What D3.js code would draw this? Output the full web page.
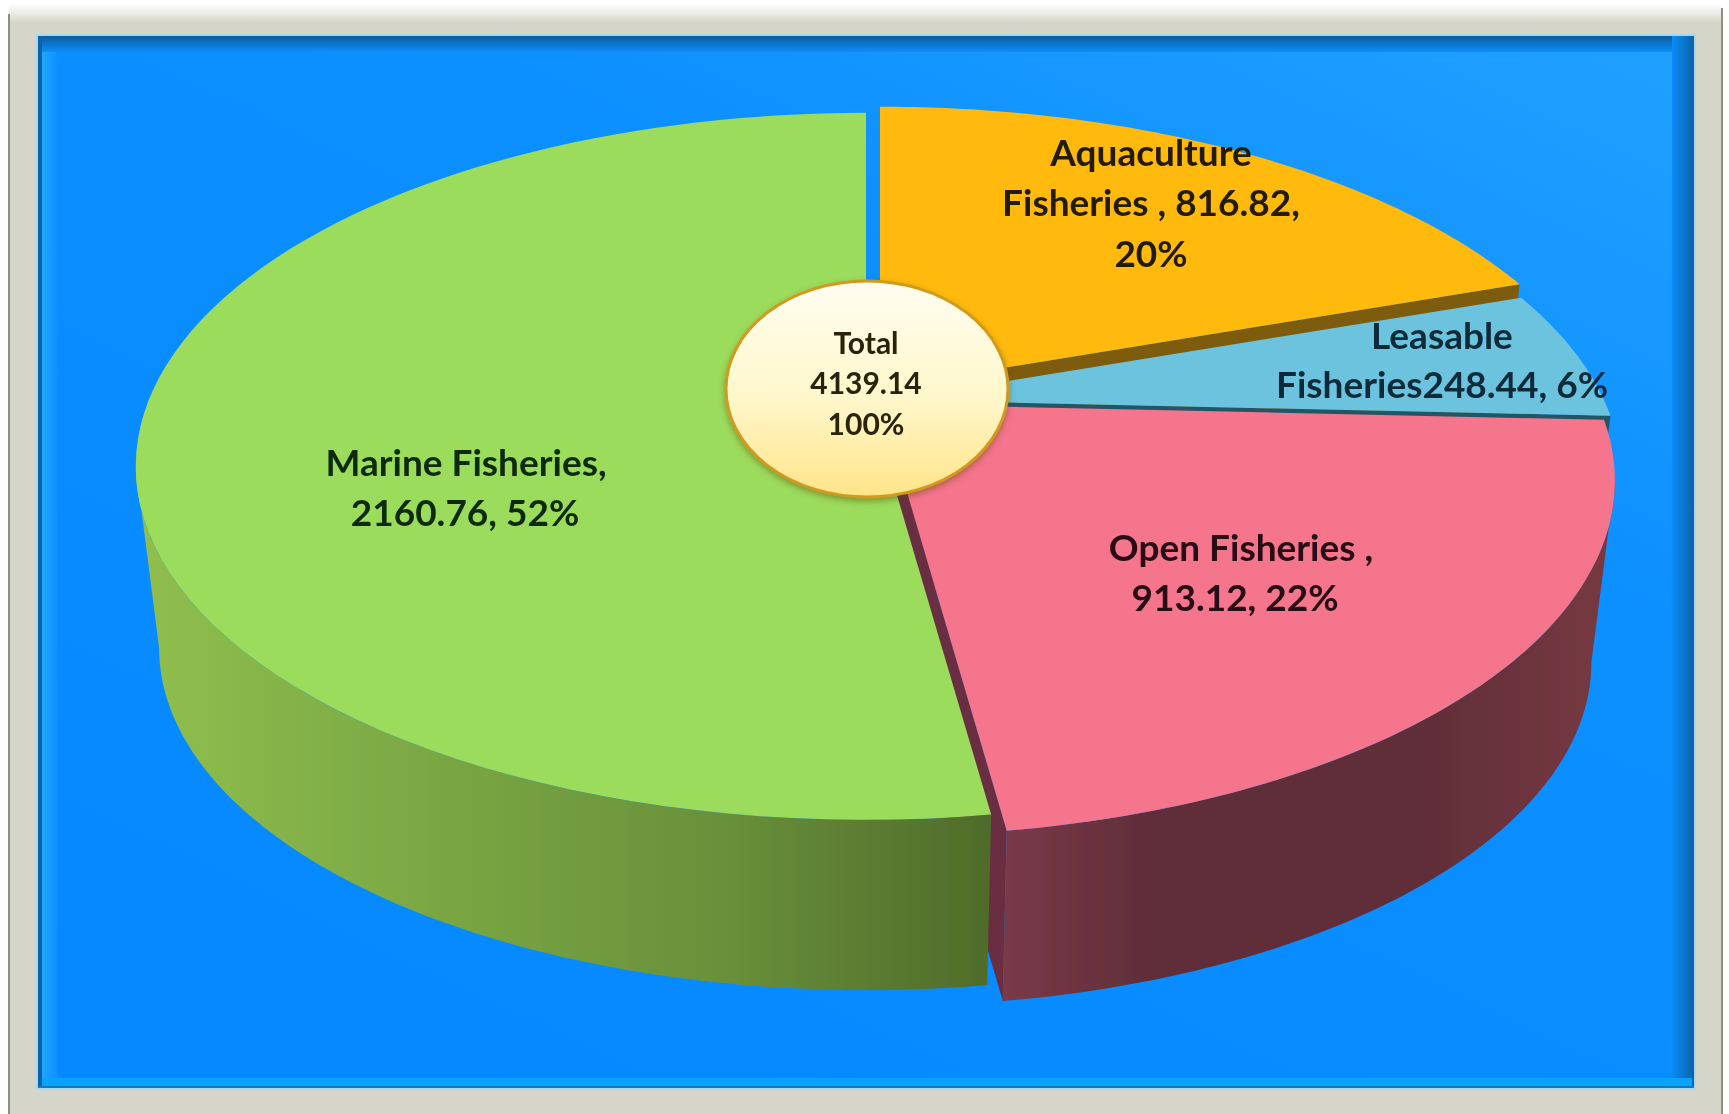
<!DOCTYPE html>
<html>
<head>
<meta charset="utf-8">
<script src="https://cdn.jsdelivr.net/npm/d3@7"></script>
<style>
  html, body { margin: 0; padding: 0; background: #fff; overflow: hidden; }
  text { font-family: Lato, "Open Sans", sans-serif; font-weight: 700; text-anchor: middle; }
</style>
</head>
<body>
<script>
// chart data
const categories = ["Aquaculture Fisheries", "Leasable Fisheries", "Open Fisheries", "Marine Fisheries"];
const values = [816.82, 248.44, 913.12, 2160.76];
const labelLines = [
  ["Aquaculture", "Fisheries , 816.82,", "20%"],
  ["Leasable", "Fisheries248.44, 6%"],
  ["Open Fisheries ,", "913.12, 22%"],
  ["Marine Fisheries,", "2160.76, 52%"],
];
const totalLines = ["Total", "4139.14", "100%"];

// layout and styles, keyed by category
const WIDTH = 1729, HEIGHT = 1114;
const RX = 713, RY = 337, PERSPECTIVE = 0.216; // tilted disc seen in perspective
const DEPTH = 184, BOTTOM_SHRINK = 0.968;
// angles where the disc outline turns from back to front
const TANGENT = Math.acos(PERSPECTIVE);
const apex = {
  "Aquaculture Fisheries": [880, 388],
  "Leasable Fisheries": [891, 400],
  "Open Fisheries": [881, 404],
  "Marine Fisheries": [866, 390],
};
const radiusScale = {
  "Aquaculture Fisheries": 1.015,
  "Leasable Fisheries": 1,
  "Open Fisheries": 1.005,
  "Marine Fisheries": 1,
};
const topColor = {
  "Aquaculture Fisheries": "#ffba0d",
  "Leasable Fisheries": "#6cc3de",
  "Open Fisheries": "#f5748c",
  "Marine Fisheries": "#9bdc5c",
};
const edgeColor = {
  "Aquaculture Fisheries": "#7d5c0c",
  "Leasable Fisheries": "#245466",
  "Open Fisheries": "#6b2f42",
  "Marine Fisheries": "#4f6b2a",
};
const textColor = {
  "Aquaculture Fisheries": "#241a05",
  "Leasable Fisheries": "#0b2a3a",
  "Open Fisheries": "#260a12",
  "Marine Fisheries": "#0b2a0c",
};
const labelX = {
  "Aquaculture Fisheries": [1151, 1151, 1151],
  "Leasable Fisheries": [1442, 1442],
  "Open Fisheries": [1241, 1235],
  "Marine Fisheries": [466, 465],
};
const labelY = {
  "Aquaculture Fisheries": [154, 204, 255],
  "Leasable Fisheries": [337, 386],
  "Open Fisheries": [549, 599],
  "Marine Fisheries": [464, 514],
};

const svg = d3.select("body").append("svg")
  .attr("width", WIDTH)
  .attr("height", HEIGHT);
const defs = svg.append("defs");

function linearGradient(id, stops, x2 = 0, y2 = 1, x1 = 0, y1 = 0) {
  const g = defs.append("linearGradient").attr("id", id)
    .attr("x1", x1).attr("y1", y1).attr("x2", x2).attr("y2", y2);
  stops.forEach(s => g.append("stop").attr("offset", s[0]).attr("stop-color", s[1]));
}

linearGradient("frameTop", [[0, "#ffffff"], [1, "#d8d7cb"]]);
linearGradient("panel", [[0, "#1fa0ff"], [0.35, "#0c8fff"], [1, "#0689ff"]], 0.2, 1, 0.95, 0);
linearGradient("bevelTop", [[0, "#0c5c9e"], [1, "#0c8efa"]]);
linearGradient("bevelRight", [[0, "#0a8cf8"], [1, "#0b62a8"]], 1, 0);
linearGradient("bevelLeft", [[0, "#22a6ff"], [1, "#0c8fff"]], 1, 0);
linearGradient("marineWall", [[0, "#90bf4f"], [0.35, "#7aa743"], [0.7, "#688f3a"], [1, "#4f6b2a"]], 1, 0);
linearGradient("openWall", [[0, "#7a3a48"], [0.25, "#5f2d38"], [0.7, "#612e38"], [1, "#773a42"]], 1, 0);
linearGradient("bubble", [[0, "#fffdf0"], [0.55, "#fff7ca"], [1, "#ffe488"]]);

const blur = defs.append("filter").attr("id", "soft");
blur.append("feGaussianBlur").attr("stdDeviation", 0.6);
const shadow = defs.append("filter").attr("id", "shadow")
  .attr("x", "-10%").attr("y", "-10%").attr("width", "120%").attr("height", "125%");
shadow.append("feDropShadow").attr("dx", 0).attr("dy", 3).attr("stdDeviation", 3)
  .attr("flood-color", "#5a4000").attr("flood-opacity", 0.45);

// frame and blue panel
svg.append("rect").attr("x", 9).attr("y", 8).attr("width", 1713).attr("height", 1106).attr("fill", "#d6d5ca");
svg.append("rect").attr("x", 9).attr("y", 4).attr("width", 1713).attr("height", 18).attr("fill", "url(#frameTop)");
svg.append("rect").attr("x", 8).attr("y", 14).attr("width", 2).attr("height", 1100).attr("fill", "#8e8e86");
svg.append("rect").attr("x", 1721).attr("y", 8).attr("width", 2).attr("height", 1106).attr("fill", "#8e8e86");
svg.append("rect").attr("x", 36).attr("y", 34).attr("width", 1660).attr("height", 1056).attr("fill", "#a8d8f0");
svg.append("rect").attr("x", 38).attr("y", 36).attr("width", 1656).attr("height", 1052).attr("fill", "url(#panel)");
svg.append("rect").attr("x", 42).attr("y", 50).attr("width", 16).attr("height", 1030).attr("fill", "url(#bevelLeft)");
svg.append("rect").attr("x", 38).attr("y", 36).attr("width", 1656).attr("height", 16).attr("fill", "url(#bevelTop)");
svg.append("rect").attr("x", 1672).attr("y", 36).attr("width", 22).attr("height", 1052).attr("fill", "url(#bevelRight)");
svg.append("rect").attr("x", 38).attr("y", 36).attr("width", 4).attr("height", 1052).attr("fill", "#0b62a8");
svg.append("rect").attr("x", 42).attr("y", 1078).attr("width", 1650).attr("height", 8).attr("fill", "#0aa2ff");
svg.append("rect").attr("x", 38).attr("y", 1086).attr("width", 1656).attr("height", 2).attr("fill", "#1878b8");

const pie = d3.pie().sort(null)(values);
const slices = categories.map((name, i) => ({
  name,
  startAngle: pie[i].startAngle,
  endAngle: pie[i].endAngle,
}));

// a pie angle on the top (level 0) or bottom (level 1) face of the disc
function project(name, angle, level, radius = 1) {
  const u = radius * Math.sin(angle);
  const v = -radius * Math.cos(angle);
  const w = 1 - PERSPECTIVE * v;
  const s = radiusScale[name] * (level ? BOTTOM_SHRINK : 1);
  return [
    apex[name][0] + RX * s * u / w,
    apex[name][1] + (level ? DEPTH : 0) + RY * s * v / w,
  ];
}

function rim(name, from, to, level) {
  const n = 90;
  return d3.range(n + 1).map(i => project(name, from + (to - from) * i / n, level));
}

const line = d3.line();
function closed(points) { return line(points) + "Z"; }

function topFace(d) {
  return closed([project(d.name, 0, 0, 0), ...rim(d.name, d.startAngle, d.endAngle, 0)]);
}

// outer wall, only the part that faces the viewer
function outerWall(name, from, to) {
  return closed([...rim(name, from, to, 0), ...rim(name, from, to, 1).reverse()]);
}

// flat cut wall along one radius
function cutWall(d, angle) {
  return closed([
    project(d.name, 0, 0, 0),
    project(d.name, angle, 0),
    project(d.name, angle, 1),
    project(d.name, 0, 1, 0),
  ]);
}

const [aquaculture, leasable, open, marine] = slices;
const chart = svg.append("g").attr("class", "pie").attr("filter", "url(#soft)");

// back to front
chart.append("path").attr("d", cutWall(aquaculture, aquaculture.endAngle)).attr("fill", edgeColor[aquaculture.name]);
chart.append("path").attr("d", topFace(aquaculture)).attr("fill", topColor[aquaculture.name]);
chart.append("path").attr("d", cutWall(leasable, leasable.endAngle)).attr("fill", edgeColor[leasable.name]);
chart.append("path").attr("d", topFace(leasable)).attr("fill", topColor[leasable.name]);
chart.append("path").attr("d", cutWall(open, open.endAngle)).attr("fill", edgeColor[open.name]);
chart.append("path").attr("d", outerWall(open.name, Math.PI / 2 + (Math.PI / 2 - TANGENT), open.endAngle)).attr("fill", "url(#openWall)");
chart.append("path").attr("d", topFace(open)).attr("fill", topColor[open.name]);
chart.append("path").attr("d", outerWall(marine.name, marine.startAngle, Math.PI + TANGENT)).attr("fill", "url(#marineWall)");
chart.append("path").attr("d", topFace(marine)).attr("fill", topColor[marine.name]);

// centre bubble
svg.append("ellipse")
  .attr("cx", 867).attr("cy", 389).attr("rx", 141).attr("ry", 108)
  .attr("fill", "url(#bubble)")
  .attr("stroke", "#d19a1e").attr("stroke-width", 3)
  .attr("filter", "url(#shadow)");

svg.append("g").selectAll("text")
  .data(totalLines)
  .join("text")
  .attr("x", 866)
  .attr("y", (d, i) => [354, 394, 435][i])
  .attr("font-size", 30)
  .attr("fill", "#2a2208")
  .attr("filter", "url(#soft)")
  .text(d => d);

// slice labels
const labels = svg.append("g").attr("class", "labels");
slices.forEach((s, i) => {
  labels.selectAll(null)
    .data(labelLines[i])
    .join("text")
    .attr("x", (d, j) => labelX[s.name][j])
    .attr("y", (d, j) => labelY[s.name][j] + 12)
    .attr("font-size", 37)
    .attr("fill", textColor[s.name])
    .attr("filter", "url(#soft)")
    .text(d => d);
});
</script>
</body>
</html>
